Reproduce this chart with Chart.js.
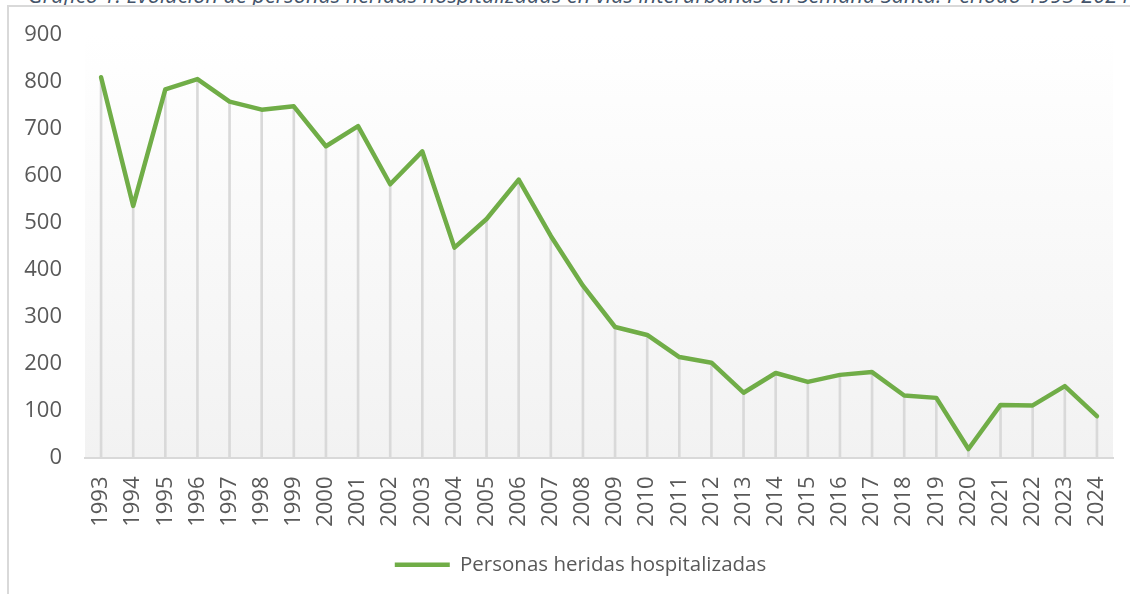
<!DOCTYPE html>
<html>
<head>
<meta charset="utf-8">
<script src="https://cdn.jsdelivr.net/npm/chart.js@4.4.1/dist/chart.umd.min.js"></script>
<style>
  html, body { margin: 0; padding: 0; background: #ffffff; }
  body { width: 1130px; height: 594px; position: relative; overflow: hidden; }
  #title { position: absolute; left: 28px; top: -16px; white-space: nowrap;
           font-family: "Open Sans", sans-serif; font-style: italic; font-size: 21.7px;
           color: #44546a; line-height: 22px; }
  #frame { position: absolute; left: 7px; top: 5px; width: 1140px; height: 600px;
           border-left: 2px solid #d9d9d9; border-top: 2px solid #d9d9d9; background: #ffffff; }
  #wrap { position: absolute; left: 0; top: 0; width: 1130px; height: 594px; }
</style>
</head>
<body>
<div id="title">Gráfico 1: Evolución de personas heridas hospitalizadas en vías interurbanas en Semana Santa. Periodo 1993-2024</div>
<div id="frame"></div>
<div id="wrap"><canvas id="c" width="1130" height="594"></canvas></div>
<script>
const years = ["1993","1994","1995","1996","1997","1998","1999","2000","2001","2002","2003","2004","2005","2006","2007","2008","2009","2010","2011","2012","2013","2014","2015","2016","2017","2018","2019","2020","2021","2022","2023","2024"];
const heridosHospitalizados = [810, 536, 784, 806, 758, 741, 748, 663, 706, 582, 652, 447, 508, 592, 472, 366, 278, 261, 214, 202, 138, 180, 161, 176, 182, 132, 127, 18, 112, 111, 152, 88];
const yTicks = [0, 100, 200, 300, 400, 500, 600, 700, 800, 900];
const seriesName = "Personas heridas hospitalizadas";

const gradientBg = {
  id: 'gradientBg',
  beforeDraw(chart) {
    const { ctx, chartArea: a } = chart;
    const g = ctx.createLinearGradient(0, a.top, 0, a.bottom);
    g.addColorStop(0, '#ffffff');
    g.addColorStop(1, '#f2f2f2');
    ctx.save();
    ctx.fillStyle = g;
    ctx.fillRect(a.left, a.top, a.right - a.left, a.bottom - a.top);
    ctx.restore();
  }
};

const legendShift = {
  id: 'legendShift',
  afterLayout(chart) {
    const l = chart.legend;
    if (l) { l.left += 24; l.right += 24; }
  }
};

new Chart(document.getElementById('c'), {
  data: {
    labels: years,
    datasets: [
      {
        type: 'line',
        label: seriesName,
        data: heridosHospitalizados,
        borderColor: '#70ad47',
        backgroundColor: '#70ad47',
        borderWidth: 4.5,
        borderJoinStyle: 'round',
        borderCapStyle: 'round',
        pointRadius: 0,
        tension: 0,
        order: 1
      },
      {
        type: 'bar',
        label: 'drop',
        data: heridosHospitalizados,
        backgroundColor: '#d9d9d9',
        barThickness: 2,
        order: 2
      }
    ]
  },
  options: {
    responsive: false,
    animation: false,
    layout: { padding: { left: 0, right: 17, top: 35, bottom: 9 } },
    plugins: {
      tooltip: { enabled: false },
      legend: {
        position: 'bottom',
        labels: {
          filter: (item) => item.text !== 'drop',
          usePointStyle: true,
          pointStyle: 'line',
          pointStyleWidth: 55,
          font: { family: 'Open Sans', size: 20.5 },
          color: '#595959',
          padding: 8
        }
      }
    },
    scales: {
      x: {
        offset: true,
        grid: { display: false, drawTicks: false },
        border: { display: true, color: '#d9d9d9', width: 2 },
        ticks: {
          minRotation: 90, maxRotation: 90, autoSkip: false,
          padding: 19,
          color: '#595959',
          font: { family: 'Open Sans', size: 22 }
        },
        afterFit(s) { s.height = 89; s.paddingLeft = 0; s.paddingRight = 0; }
      },
      y: {
        min: 0, max: 900,
        afterBuildTicks(s) { s.ticks = yTicks.map(v => ({ value: v })); },
        grid: { display: false, drawTicks: false },
        border: { display: false },
        ticks: {
          padding: 23,
          color: '#595959',
          font: { family: 'Open Sans', size: 22 }
        },
        afterFit(s) { s.width = 85; s.paddingTop = 0; s.paddingBottom = 0; }
      }
    }
  },
  plugins: [gradientBg, legendShift]
});
</script>
</body>
</html>
